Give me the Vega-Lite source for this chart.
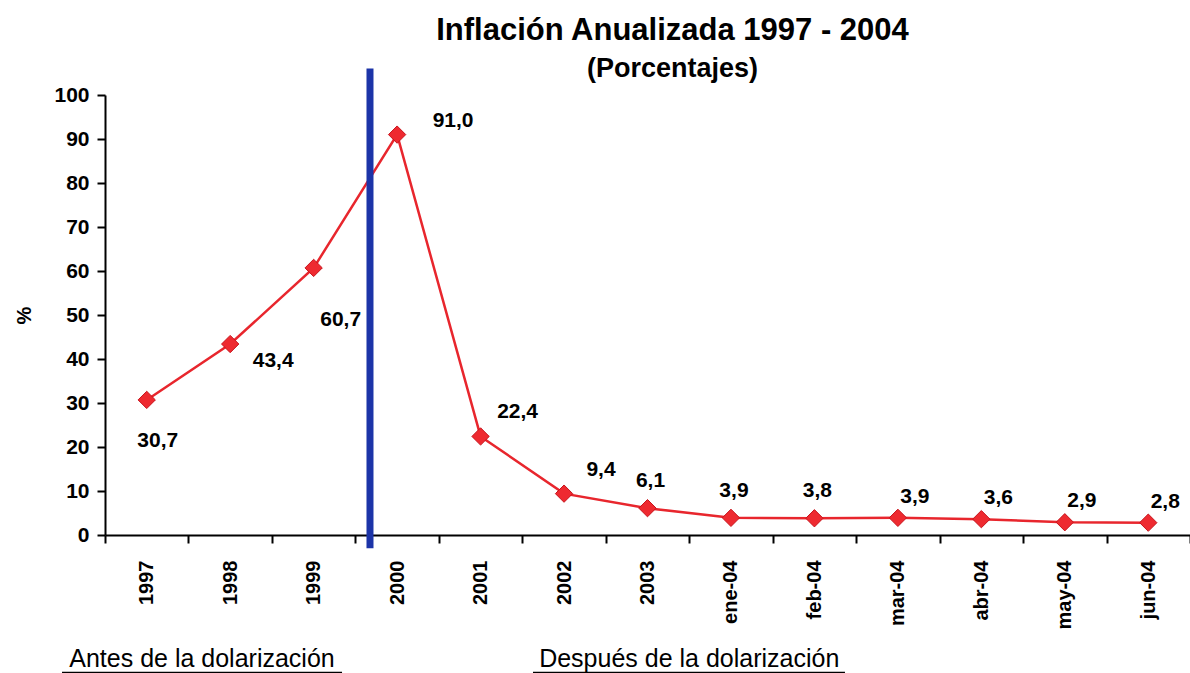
{
  "$schema": "https://vega.github.io/schema/vega-lite/v6.json",
  "autosize": "none",
  "padding": {"left": 105, "top": 95, "right": 0, "bottom": 138},
  "width": 1085,
  "height": 440,
  "background": "white",
  "title": {
    "text": "Inflación Anualizada 1997 - 2004",
    "subtitle": "(Porcentajes)",
    "font": "Liberation Sans",
    "fontSize": 31,
    "fontWeight": "bold",
    "subtitleFont": "Liberation Sans",
    "subtitleFontSize": 27,
    "subtitleFontWeight": "bold",
    "subtitleColor": "black",
    "color": "black",
    "anchor": "middle",
    "frame": "group",
    "dx": 25,
    "offset": -18,
    "subtitlePadding": 9
  },
  "config": {
    "locale": {"number": {"decimal": ",", "thousands": ".", "grouping": [3], "currency": ["", ""]}},
    "view": {"stroke": null},
    "font": "Liberation Sans"
  },
  "data": {"values": [
    {"periodo": "1997", "inflacion": 30.7},
    {"periodo": "1998", "inflacion": 43.4},
    {"periodo": "1999", "inflacion": 60.7},
    {"periodo": "2000", "inflacion": 91.0},
    {"periodo": "2001", "inflacion": 22.4},
    {"periodo": "2002", "inflacion": 9.4},
    {"periodo": "2003", "inflacion": 6.1},
    {"periodo": "ene-04", "inflacion": 3.9},
    {"periodo": "feb-04", "inflacion": 3.8},
    {"periodo": "mar-04", "inflacion": 3.9},
    {"periodo": "abr-04", "inflacion": 3.6},
    {"periodo": "may-04", "inflacion": 2.9},
    {"periodo": "jun-04", "inflacion": 2.8}
  ]},
  "encoding": {
    "x": {
      "field": "periodo",
      "type": "ordinal",
      "scale": {"domain": ["1997", "1998", "1999", "2000", "2001", "2002", "2003", "ene-04", "feb-04", "mar-04", "abr-04", "may-04", "jun-04"], "type": "band", "paddingInner": 0, "paddingOuter": 0},
      "axis": {
        "title": null,
        "labelAngle": 270,
        "labelAlign": "right",
        "labelBaseline": "middle",
        "labelFont": "Liberation Sans",
        "labelFontSize": 20,
        "labelFontWeight": "bold",
        "labelColor": "black",
        "labelPadding": 17,
        "tickBand": "extent",
        "tickSize": 8,
        "tickColor": "black",
        "tickWidth": 2,
        "domainColor": "black",
        "domainWidth": 2,
        "grid": false
      }
    },
    "y": {
      "field": "inflacion",
      "type": "quantitative",
      "scale": {"domain": [0, 100], "nice": false, "zero": true},
      "axis": {
        "title": "%",
        "titleFont": "Liberation Sans",
        "titleFontSize": 20,
        "titleFontWeight": "bold",
        "titleColor": "black",
        "titlePadding": 19,
        "values": [0, 10, 20, 30, 40, 50, 60, 70, 80, 90, 100],
        "labelFont": "Liberation Sans",
        "labelFontSize": 21,
        "labelFontWeight": "bold",
        "labelColor": "black",
        "labelPadding": 8,
        "tickSize": 8,
        "tickColor": "black",
        "tickWidth": 2,
        "domainColor": "black",
        "domainWidth": 2,
        "grid": false
      }
    }
  },
  "layer": [
    {
      "mark": {"type": "line", "color": "#e8262d", "strokeWidth": 2.5}
    },
    {
      "mark": {"type": "point", "shape": "diamond", "filled": true, "size": 300, "color": "#ee2a30", "stroke": "#c8141c", "strokeWidth": 1, "opacity": 1}
    },
    {
      "transform": [{"filter": {"field": "periodo", "equal": "2000"}}],
      "mark": {"type": "rule", "color": "#1c34a8", "strokeWidth": 7},
      "encoding": {
        "x": {"datum": "2000", "type": "ordinal", "bandPosition": 0.175},
        "y": {"datum": 106},
        "y2": {"datum": -3}
      }
    },
    {
      "transform": [{"filter": {"field": "periodo", "oneOf": ["1997"]}}],
      "mark": {"type": "text", "fontSize": 21, "fontWeight": "bold", "color": "black", "dx": 11, "dy": 41},
      "encoding": {"text": {"field": "inflacion", "type": "quantitative", "format": ".1f"}}
    },
    {
      "transform": [{"filter": {"field": "periodo", "oneOf": ["1998"]}}],
      "mark": {"type": "text", "fontSize": 21, "fontWeight": "bold", "color": "black", "dx": 43, "dy": 17},
      "encoding": {"text": {"field": "inflacion", "type": "quantitative", "format": ".1f"}}
    },
    {
      "transform": [{"filter": {"field": "periodo", "oneOf": ["1999"]}}],
      "mark": {"type": "text", "fontSize": 21, "fontWeight": "bold", "color": "black", "dx": 27, "dy": 52},
      "encoding": {"text": {"field": "inflacion", "type": "quantitative", "format": ".1f"}}
    },
    {
      "transform": [{"filter": {"field": "periodo", "oneOf": ["2000"]}}],
      "mark": {"type": "text", "fontSize": 21, "fontWeight": "bold", "color": "black", "dx": 56, "dy": -14},
      "encoding": {"text": {"field": "inflacion", "type": "quantitative", "format": ".1f"}}
    },
    {
      "transform": [{"filter": {"field": "periodo", "oneOf": ["2001", "2002"]}}],
      "mark": {"type": "text", "fontSize": 21, "fontWeight": "bold", "color": "black", "dx": 37, "dy": -24},
      "encoding": {"text": {"field": "inflacion", "type": "quantitative", "format": ".1f"}}
    },
    {
      "transform": [{"filter": {"field": "periodo", "oneOf": ["2003", "ene-04", "feb-04"]}}],
      "mark": {"type": "text", "fontSize": 21, "fontWeight": "bold", "color": "black", "dx": 3, "dy": -27},
      "encoding": {"text": {"field": "inflacion", "type": "quantitative", "format": ".1f"}}
    },
    {
      "transform": [{"filter": {"field": "periodo", "oneOf": ["mar-04", "abr-04", "may-04", "jun-04"]}}],
      "mark": {"type": "text", "fontSize": 21, "fontWeight": "bold", "color": "black", "dx": 17, "dy": -21},
      "encoding": {"text": {"field": "inflacion", "type": "quantitative", "format": ".1f"}}
    },
    {
      "transform": [{"filter": {"field": "periodo", "equal": "1998"}}],
      "mark": {"type": "text", "text": "Antes de la dolarización", "fontSize": 25, "font": "Liberation Sans", "color": "black", "baseline": "alphabetic"},
      "encoding": {
        "x": {"datum": "1998", "type": "ordinal", "bandPosition": 0.162},
        "y": {"datum": -30}
      }
    },
    {
      "transform": [{"filter": {"field": "periodo", "equal": "ene-04"}}],
      "mark": {"type": "text", "text": "Después de la dolarización", "fontSize": 25, "font": "Liberation Sans", "color": "black", "baseline": "alphabetic"},
      "encoding": {
        "x": {"datum": "ene-04", "type": "ordinal", "bandPosition": 0},
        "y": {"datum": -30}
      }
    },
    {
      "transform": [{"filter": {"field": "periodo", "equal": "1997"}}],
      "mark": {"type": "rule", "color": "black", "strokeWidth": 2},
      "encoding": {
        "x": {"datum": "1997", "type": "ordinal", "bandPosition": -0.515},
        "x2": {"datum": "1999", "bandPosition": 0.84},
        "y": {"datum": -31.3}
      }
    },
    {
      "transform": [{"filter": {"field": "periodo", "equal": "2002"}}],
      "mark": {"type": "rule", "color": "black", "strokeWidth": 2},
      "encoding": {
        "x": {"datum": "2002", "type": "ordinal", "bandPosition": 0.128},
        "x2": {"datum": "feb-04", "bandPosition": 0.866},
        "y": {"datum": -31.3}
      }
    }
  ]
}
